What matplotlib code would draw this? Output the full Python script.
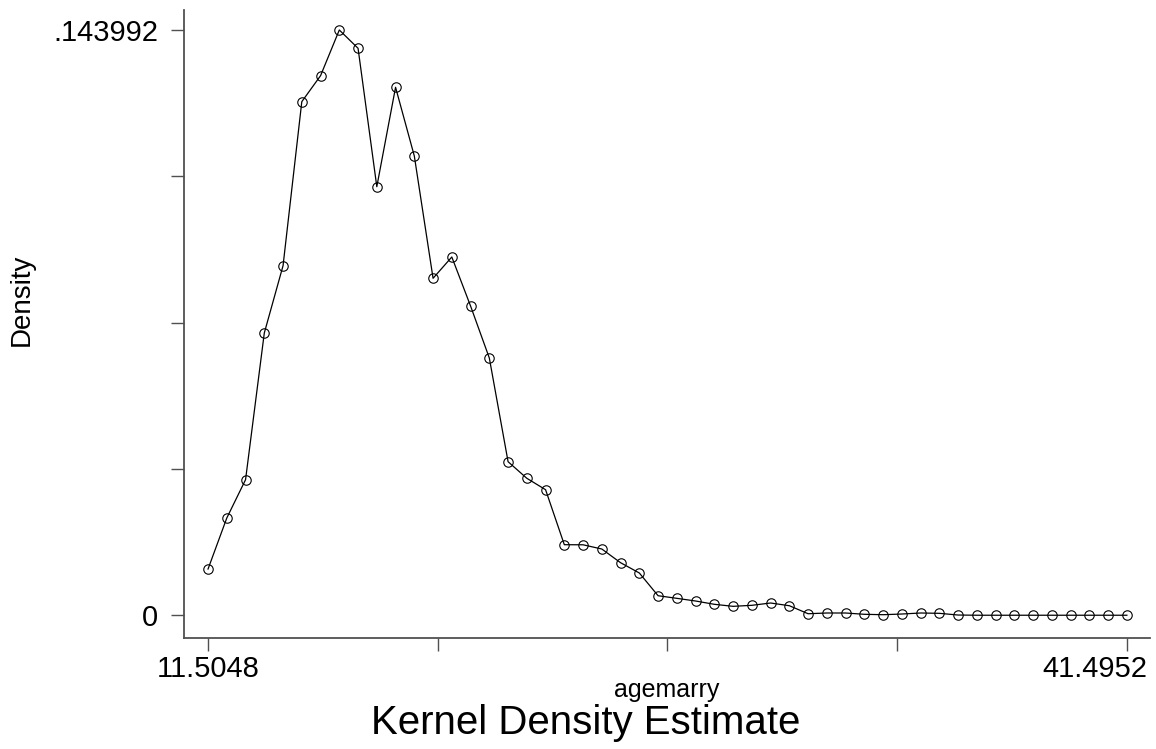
import numpy as np
import matplotlib.pyplot as plt
from matplotlib.transforms import ScaledTranslation

# kdensity agemarry, 50 evaluation points
x_min = 11.5048
x_max = 41.4952
n_points = 50
y_max = 0.143992

density = [
    0.01139, 0.02394, 0.03336, 0.06945, 0.08601, 0.12636, 0.13275, 0.143992, 0.13949, 0.10544,
    0.12990, 0.11300, 0.08291, 0.08815, 0.07609, 0.06330, 0.03779, 0.03371, 0.03090, 0.01737,
    0.01735, 0.01631, 0.01294, 0.01041, 0.00482, 0.00418, 0.00352, 0.00271, 0.00221, 0.00246,
    0.00303, 0.00236, 0.00039, 0.00057, 0.00057, 0.00025, 0.00015, 0.00032, 0.00057, 0.00049,
    0.00007, 0.00002, 0.00002, 0.00002, 0.00002, 0.00002, 0.00002, 0.00002, 0.00002, 0.00002,
]
agemarry = np.linspace(x_min, x_max, n_points)

plt.rcParams['font.family'] = ['Liberation Sans', 'DejaVu Sans']

fig = plt.figure(figsize=(11.56, 7.49), dpi=100)
ax = fig.add_axes((184 / 1156, 1 - 638 / 749, 966 / 1156, 628 / 749))

ax.plot(agemarry, density, color='black', lw=0.9,
        marker='o', markersize=6.8, markerfacecolor='none',
        markeredgecolor='black', markeredgewidth=0.8)

# 坐标范围（按像素换算）
ax.set_xlim(10.72, 42.25)
ax.set_ylim(-0.00558, 0.14891)

step = (x_max - x_min) / 4
ax.set_xticks([x_min + i * step for i in range(5)])
ax.set_xticklabels(['11.5048', '', '', '', '41.4952'])
ax.set_yticks([y_max * i / 4 for i in range(5)])
ax.set_yticklabels(['0', '', '', '', '.143992'])

for side in ('top', 'right'):
    ax.spines[side].set_visible(False)
for side in ('left', 'bottom'):
    ax.spines[side].set_color('#505050')
    ax.spines[side].set_linewidth(1.3)

ax.tick_params(axis='both', length=9.5, width=1.0, color='#505050', labelsize=21)
ax.tick_params(axis='y', pad=9)
ax.tick_params(axis='x', pad=3)

# 最右侧标签向左收进画布
last = ax.get_xticklabels()[-1]
last.set_ha('right')
last.set_transform(last.get_transform() + ScaledTranslation(21 / 100, 0, fig.dpi_scale_trans))

fig.text(667 / 1156, 1 - 697 / 749, 'agemarry', ha='center', va='baseline', fontsize=18)
fig.text(586 / 1156, 1 - 734 / 749, 'Kernel Density Estimate', ha='center', va='baseline', fontsize=29)
fig.text(22 / 1156, 1 - 300 / 749, 'Density', ha='center', va='center', rotation=90, fontsize=20)

fig.savefig('out.png', dpi=100)
